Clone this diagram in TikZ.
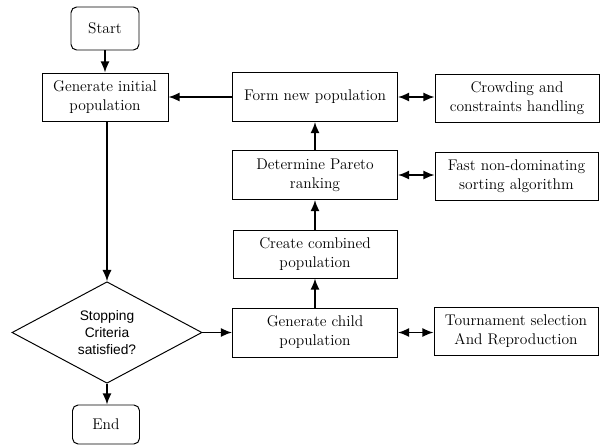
\documentclass[tikz,border=0pt]{standalone}
\usepackage{fontspec}
\setsansfont{Liberation Sans}
\usetikzlibrary{shapes.geometric,arrows.meta}
\begin{document}
\begin{tikzpicture}[x=0.025cm,y=-0.025cm,
  box/.style={draw, line width=0.7pt, rectangle, inner sep=0pt, align=center,
    font=\fontsize{11}{13.5}\selectfont},
  term/.style={box, rounded corners=4pt},
  decide/.style={draw, line width=0.7pt, diamond, inner sep=0pt, align=center,
    font=\sffamily\fontsize{9.8}{11.8}\selectfont},
  flow/.style={line width=1.1pt, -{Latex[length=8pt,width=6.5pt]}},
  both/.style={line width=1.1pt, {Latex[length=8pt,width=6.5pt]}-{Latex[length=8pt,width=6.5pt]}}
]
\useasboundingbox (0,0) rectangle (600,448);
\node[term, minimum width=68*0.025cm, minimum height=43*0.025cm] (start) at (105,28.5) {Start};
\node[box, minimum width=126*0.025cm, minimum height=48*0.025cm] (gen) at (105,97) {Generate initial\\population};
\node[box, minimum width=165*0.025cm, minimum height=49*0.025cm] (form) at (315,97) {Form new population};
\node[box, minimum width=164*0.025cm, minimum height=48*0.025cm] (crowd) at (517,98) {Crowding and\\constraints handling};
\node[box, minimum width=165*0.025cm, minimum height=49*0.025cm] (pareto) at (315,175) {Determine Pareto\\ranking};
\node[box, minimum width=163*0.025cm, minimum height=48*0.025cm] (fast) at (516.5,176) {Fast non-dominating\\sorting algorithm};
\node[box, minimum width=164*0.025cm, minimum height=48*0.025cm] (comb) at (315,254) {Create combined\\population};
\node[box, minimum width=165*0.025cm, minimum height=49*0.025cm] (child) at (315,332.5) {Generate child\\population};
\node[box, minimum width=164*0.025cm, minimum height=48*0.025cm] (tourn) at (516,331) {Tournament selection\\And Reproduction};
\node[decide, minimum width=190*0.025cm, minimum height=101*0.025cm] (stop) at (107,332.5) {Stopping\\Criteria\\satisfied?};
\node[term, minimum width=67*0.025cm, minimum height=39*0.025cm] (end) at (106,424.5) {End};

\draw[flow] (start) -- (gen);
\draw[flow] (form) -- (gen);
\draw[flow] (gen.south -| stop.north) -- (stop.north);
\draw[flow] (stop.east) -- (child.west |- stop.east);
\draw[flow] (child) -- (comb);
\draw[flow] (comb) -- (pareto);
\draw[flow] (pareto) -- (form);
\draw[both] (form) -- (crowd.west |- form);
\draw[both] (pareto) -- (fast.west |- pareto);
\draw[both] (child) -- (tourn.west |- child);
\draw[flow] (stop.south) -- (end.north -| stop.south);
\end{tikzpicture}
\end{document}
